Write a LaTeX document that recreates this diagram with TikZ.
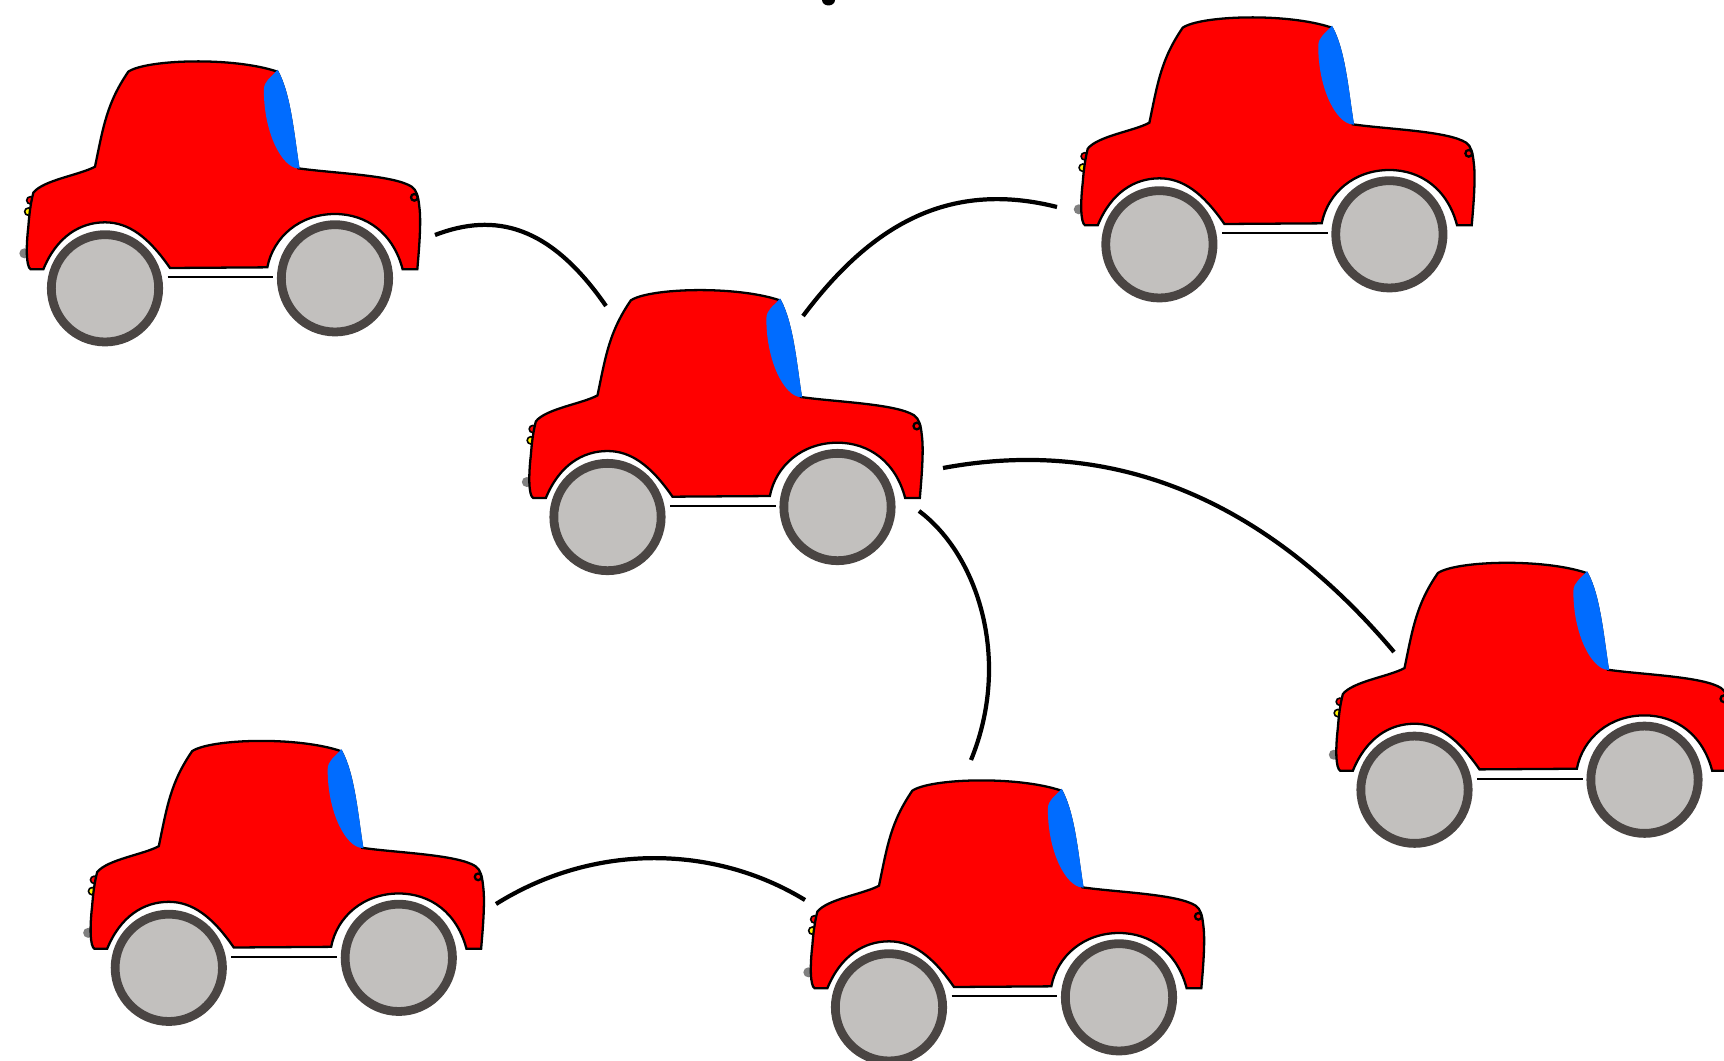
\documentclass[tikz,border=0pt]{standalone}
\definecolor{carred}{HTML}{FF0000}
\definecolor{glass}{HTML}{006CFF}
\definecolor{tyre}{HTML}{4A4543}
\definecolor{hub}{HTML}{C2C0BE}
\tikzset{
  outline/.style={draw=black,line width=0.65pt},
  link/.style={draw=black,line width=1.2pt},
  pics/car/.style={code={
    \fill[gray] (73,640) circle (15);
    \draw[draw=black,line width=0.45pt,fill=yellow] (85,515) circle (11);
    \draw[draw=black,line width=0.45pt,fill=carred] (91,481) circle (11);
    \draw[outline,fill=carred] (385,95) .. controls (440,58) and (700,50) .. (832,95)
      .. controls (870,165) and (880,290) .. (895,385)
      .. controls (1000,400) and (1180,405) .. (1235,440)
      .. controls (1250,450) and (1255,470) .. (1258,500)
      .. controls (1265,550) and (1255,650) .. (1252,688)
      -- (1208,688)
      .. controls (1180,580) and (1100,522) .. (1005,522)
      .. controls (900,522) and (820,590) .. (802,682)
      -- (510,684)
      .. controls (445,590) and (385,547) .. (315,547)
      .. controls (240,547) and (170,590) .. (130,688)
      -- (92,688)
      .. controls (78,680) and (78,620) .. (85,560)
      .. controls (88,520) and (92,490) .. (100,458)
      .. controls (130,420) and (240,405) .. (285,380)
      .. controls (310,260) and (320,190) .. (385,95) -- cycle;
    \draw[glass,fill=glass,line width=0.65pt] (832,95) .. controls (870,165) and (880,290) .. (895,382)
      .. controls (850,380) and (795,280) .. (795,150)
      .. controls (795,125) and (815,115) .. (832,95) -- cycle;
    \draw[outline] (1243,472) circle (10);
    \draw[tyre,fill=hub,line width=2.5pt] (315,745) circle (161);
    \draw[tyre,fill=hub,line width=2.5pt] (1005,715) circle (161);
    \draw[line width=0.5pt] (503,712)--(820,712);
  }},
  car/.style={scale=1/3}
}
\begin{document}
\begin{tikzpicture}[x=0.01cm,y=-0.01cm]
\useasboundingbox (0,0) rectangle (1724,1061);
\clip (0,0) rectangle (1724,1061);

\pic[car] (carA) at (0,40) {car};
\pic[car] (carB) at (502.5,268.7) {car};
\pic[car] (carC) at (1054.4,-4) {car};
\pic[car] (carD) at (1309.5,541.4) {car};
\pic[car] (carE) at (63.8,719.5) {car};
\pic[car] (carF) at (784,759) {car};

% top edge
\fill (822,0) arc[start angle=180,end angle=0,x radius=6.5,y radius=5.5] -- cycle;

\coordinate (a1) at (435,235);
\coordinate (b1) at (606,306);
\coordinate (b2) at (803,316);
\coordinate (c2) at (1057,207);
\coordinate (b3) at (943,468);
\coordinate (d3) at (1394,652);
\coordinate (b4) at (919,511);
\coordinate (f4) at (971,760);
\coordinate (e5) at (496,904);
\coordinate (f5) at (805,900);

\draw[link] (a1) .. controls (495,212) and (550,225) .. (b1);
\draw[link] (b2) .. controls (869,228) and (946,179) .. (c2);
\draw[link] (b3) .. controls (1120,435) and (1270,505) .. (d3);
\draw[link] (b4) .. controls (978,555) and (1012,660) .. (f4);
\draw[link] (e5) .. controls (595,842) and (715,845) .. (f5);
\end{tikzpicture}
\end{document}
